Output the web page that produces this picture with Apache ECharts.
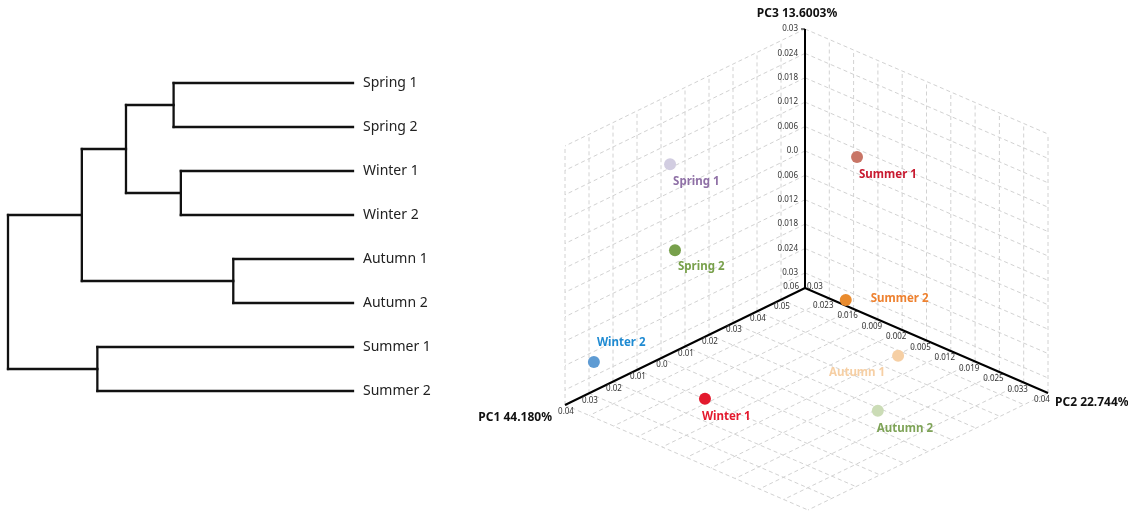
<!DOCTYPE html>
<html>
<head>
<meta charset="utf-8">
<script src="https://cdn.jsdelivr.net/npm/echarts@6/dist/echarts.min.js"></script>
<style>
  html, body { margin: 0; padding: 0; background: #ffffff; }
  #chart { width: 1128px; height: 516px; }
</style>
</head>
<body>
<div id="chart"></div>
<script>
// ---- Hierarchical clustering of the eight seasonal samples ----
const leafOrder = ['Spring 1', 'Spring 2', 'Winter 1', 'Winter 2', 'Autumn 1', 'Autumn 2', 'Summer 1', 'Summer 2'];
const clusterIds = ['c1', 'c2', 'c3', 'c4', 'c5', 'c6', 'c7'];
const mergeA = ['Spring 1', 'Winter 1', 'Autumn 1', 'Summer 1', 'c1', 'c5', 'c6'];
const mergeB = ['Spring 2', 'Winter 2', 'Autumn 2', 'Summer 2', 'c2', 'c3', 'c4'];
const mergeHeight = [0.520, 0.499, 0.347, 0.741, 0.658, 0.786, 1.0];

// ---- PCA scores ----
const sampleNames = ['Spring 1', 'Spring 2', 'Winter 1', 'Winter 2', 'Autumn 1', 'Autumn 2', 'Summer 1', 'Summer 2'];
const pc1 = [-0.0065, -0.0069, -0.0216, -0.0336, 0.0298, 0.0092, 0.0474, 0.0508];
const pc2 = [0.0229, 0.0212, 0.0024, 0.0261, -0.0177, -0.0261, 0.0063, 0.0119];
const pc3 = [0.0185, -0.0019, -0.0273, -0.0235, -0.0241, -0.0286, 0.0109, -0.0273];

// ---- Axis spans (origin corner -> far end) and ticks ----
const pc1Span = [0.06, -0.04];
const pc2Span = [0.03, -0.04];
const pc3Span = [-0.0337, 0.03];
const pc1Ticks = [0.06, 0.05, 0.04, 0.03, 0.02, 0.01, 0, -0.01, -0.02, -0.03, -0.04];
const pc1Labels = ['0.06', '0.05', '0.04', '0.03', '0.02', '0.01', '0.0', '0.01', '0.02', '0.03', '0.04'];
const pc2Ticks = [0.03, 0.023, 0.016, 0.009, 0.002, -0.005, -0.012, -0.019, -0.026, -0.033, -0.04];
const pc2Labels = ['0.03', '0.023', '0.016', '0.009', '0.002', '0.005', '0.012', '0.019', '0.025', '0.033', '0.04'];
const pc3Ticks = [0.03, 0.024, 0.018, 0.012, 0.006, 0, -0.006, -0.012, -0.018, -0.024, -0.03];
const pc3Labels = ['0.03', '0.024', '0.018', '0.012', '0.006', '0.0', '0.006', '0.012', '0.018', '0.024', '0.03'];
const axisTitles = ['PC1 44.180%', 'PC2 22.744%', 'PC3 13.6003%'];

// ---- Styling ----
const FONT = '"Noto Sans", "DejaVu Sans", sans-serif';
const pointColors = {
  'Spring 1': '#d2cde1', 'Spring 2': '#77a04b', 'Winter 1': '#e3192d', 'Winter 2': '#5e9bd3',
  'Autumn 1': '#f6cfa4', 'Autumn 2': '#cbdcb6', 'Summer 1': '#c87566', 'Summer 2': '#e98b2e'
};
const labelColors = {
  'Spring 1': '#8f70a6', 'Spring 2': '#78a04b', 'Winter 1': '#e3192d', 'Winter 2': '#1e8ad2',
  'Autumn 1': '#f6cfa4', 'Autumn 2': '#7ea357', 'Summer 1': '#c81a30', 'Summer 2': '#ee812f'
};
// label anchor relative to the marker centre
const labelPlacement = {
  'Spring 1': ['left', 3, 18], 'Spring 2': ['left', 3, 17], 'Winter 1': ['left', -3, 18],
  'Winter 2': ['left', 3, -19], 'Autumn 1': ['right', -13, 17], 'Autumn 2': ['left', -1, 18],
  'Summer 1': ['left', 2, 18], 'Summer 2': ['left', 25, -1]
};
const MARKER = 12;

// oblique projection frame of the PCA cube, in plot-area units
const frame = { ox: 805, oy: 288, a1: [-240, 117], a2: [243, 105], a3: [0, -259] };

function project(v1, v2, v3) {
  const t1 = (v1 - pc1Span[0]) / (pc1Span[1] - pc1Span[0]);
  const t2 = (v2 - pc2Span[0]) / (pc2Span[1] - pc2Span[0]);
  const t3 = (v3 - pc3Span[0]) / (pc3Span[1] - pc3Span[0]);
  return [
    frame.ox + t1 * frame.a1[0] + t2 * frame.a2[0] + t3 * frame.a3[0],
    frame.oy + t1 * frame.a1[1] + t2 * frame.a2[1] + t3 * frame.a3[1]
  ];
}

// ---- Dendrogram links ----
const children = {};
clusterIds.forEach((id, i) => { children[id] = [mergeA[i], mergeB[i], mergeHeight[i]]; });
const nodeHeight = id => (children[id] ? children[id][2] : 0);
const linkData = clusterIds.map((id, i) => [mergeHeight[i], i]);

function nodeY(api, id) {
  if (children[id]) return (nodeY(api, children[id][0]) + nodeY(api, children[id][1])) / 2;
  return api.coord([0, leafOrder.indexOf(id)])[1];
}

function renderLink(params, api) {
  const i = api.value(1);
  const h = api.value(0);
  const a = mergeA[i], b = mergeB[i];
  const x = api.coord([h, 0])[0];
  const ya = nodeY(api, a), yb = nodeY(api, b);
  const xa = api.coord([nodeHeight(a), 0])[0];
  const xb = api.coord([nodeHeight(b), 0])[0];
  const st = { stroke: '#111111', lineWidth: 2.3, lineCap: 'square' };
  return {
    type: 'group',
    children: [
      { type: 'line', shape: { x1: x, y1: ya, x2: x, y2: yb }, style: st },
      { type: 'line', shape: { x1: x, y1: ya, x2: xa, y2: ya }, style: st },
      { type: 'line', shape: { x1: x, y1: yb, x2: xb, y2: yb }, style: st }
    ]
  };
}

// ---- Cube wall / floor grid segments ----
const gridSegs = [];
const o1 = pc1Span[0], e1 = pc1Span[1], o2 = pc2Span[0], e2 = pc2Span[1], lo3 = pc3Span[0], hi3 = pc3Span[1];
pc1Ticks.forEach(v => { gridSegs.push([v, o2, lo3, v, o2, hi3]); gridSegs.push([v, o2, lo3, v, e2, lo3]); });
pc2Ticks.forEach(v => { gridSegs.push([o1, v, lo3, o1, v, hi3]); gridSegs.push([o1, v, lo3, e1, v, lo3]); });
pc3Ticks.forEach(v => { gridSegs.push([o1, o2, v, e1, o2, v]); gridSegs.push([o1, o2, v, o1, e2, v]); });

function renderGridSeg(params, api) {
  const p = api.coord(project(api.value(0), api.value(1), api.value(2)));
  const q = api.coord(project(api.value(3), api.value(4), api.value(5)));
  return {
    type: 'line',
    shape: { x1: p[0], y1: p[1], x2: q[0], y2: q[1] },
    style: { stroke: '#d2d2d2', lineWidth: 1, lineDash: [4, 3] }
  };
}

function tickText(pt, text, align) {
  return {
    type: 'text', x: pt[0], y: pt[1],
    style: { text: text, fill: '#333333', fontSize: 8, fontFamily: FONT, align: align, verticalAlign: 'middle' }
  };
}
function titleText(pt, text, align) {
  return {
    type: 'text', x: pt[0], y: pt[1],
    style: { text: text, fill: '#111111', fontSize: 12, fontWeight: 'bold', fontFamily: FONT, align: align, verticalAlign: 'middle' }
  };
}

function renderAxes(params, api) {
  const O = api.coord(project(o1, o2, lo3));
  const E1 = api.coord(project(e1, o2, lo3));
  const E2 = api.coord(project(o1, e2, lo3));
  const E3 = api.coord(project(o1, o2, hi3));
  const ax = { stroke: '#000000', lineWidth: 2 };
  const els = [
    { type: 'line', shape: { x1: O[0], y1: O[1], x2: E1[0], y2: E1[1] }, style: ax },
    { type: 'line', shape: { x1: O[0], y1: O[1], x2: E2[0], y2: E2[1] }, style: ax },
    { type: 'line', shape: { x1: O[0], y1: O[1], x2: E3[0], y2: E3[1] }, style: ax },
    { type: 'line', shape: { x1: E3[0] - 4, y1: E3[1], x2: E3[0], y2: E3[1] }, style: { stroke: '#000', lineWidth: 1 } }
  ];
  pc3Ticks.forEach((v, i) => {
    const p = api.coord(project(o1, o2, v));
    els.push(tickText([p[0] - 7, p[1]], pc3Labels[i], 'right'));
  });
  pc1Ticks.forEach((v, i) => {
    const p = api.coord(project(v, o2, lo3));
    if (i === 0) els.push(tickText([p[0] - 6, p[1] - 1], pc1Labels[i], 'right'));
    else els.push(tickText([p[0] + 1, p[1] + 7], pc1Labels[i], 'center'));
  });
  pc2Ticks.forEach((v, i) => {
    const p = api.coord(project(o1, v, lo3));
    if (i === 0) els.push(tickText([p[0] + 2, p[1] - 1], pc2Labels[i], 'left'));
    else els.push(tickText([p[0] - 6, p[1] + 7], pc2Labels[i], 'center'));
  });
  els.push(titleText([E1[0] - 13, E1[1] + 13], axisTitles[0], 'right'));
  els.push(titleText([E2[0] + 7, E2[1] + 10], axisTitles[1], 'left'));
  els.push(titleText([E3[0] - 8, E3[1] - 15], axisTitles[2], 'center'));
  return { type: 'group', children: els };
}

// ---- Sample markers ----
const pointData = sampleNames.map((name, i) => {
  const pl = labelPlacement[name];
  return {
    name: name,
    value: project(pc1[i], pc2[i], pc3[i]),
    itemStyle: { color: pointColors[name], opacity: 1 },
    label: {
      show: true,
      formatter: '{b}',
      position: [MARKER / 2 + pl[1], MARKER / 2 + pl[2]],
      align: pl[0],
      verticalAlign: 'middle',
      color: labelColors[name],
      opacity: 1,
      fontSize: 11.5,
      fontWeight: 'bold',
      fontFamily: FONT
    }
  };
});

const chart = echarts.init(document.getElementById('chart'), null, { renderer: 'canvas' });
chart.setOption({
  animation: false,
  backgroundColor: '#ffffff',
  grid: [
    { left: 8, top: 61, width: 345, height: 352, containLabel: false },
    { left: 0, top: 0, width: 1128, height: 516, containLabel: false }
  ],
  xAxis: [
    { gridIndex: 0, type: 'value', min: 0, max: 1, inverse: true, show: false },
    { gridIndex: 1, type: 'value', min: 0, max: 1128, show: false }
  ],
  yAxis: [
    {
      gridIndex: 0, type: 'category', data: leafOrder, inverse: true, position: 'right',
      axisLine: { show: false }, axisTick: { show: false }, splitLine: { show: false },
      axisLabel: { margin: 10, fontSize: 14, color: '#222222', fontFamily: FONT }
    },
    { gridIndex: 1, type: 'value', min: 0, max: 516, inverse: true, show: false }
  ],
  series: [
    {
      type: 'custom', name: 'dendrogram', xAxisIndex: 0, yAxisIndex: 0,
      renderItem: renderLink, data: linkData, silent: true, z: 2
    },
    {
      type: 'custom', name: 'cube grid', xAxisIndex: 1, yAxisIndex: 1,
      renderItem: renderGridSeg, data: gridSegs, silent: true, z: 1
    },
    {
      type: 'custom', name: 'cube axes', xAxisIndex: 1, yAxisIndex: 1,
      renderItem: renderAxes, data: [[0, 0]], silent: true, z: 3
    },
    {
      type: 'scatter', name: 'samples', xAxisIndex: 1, yAxisIndex: 1,
      symbol: 'circle', symbolSize: MARKER, data: pointData, silent: true, z: 4,
      itemStyle: { opacity: 1 }
    }
  ]
});
</script>
</body>
</html>
